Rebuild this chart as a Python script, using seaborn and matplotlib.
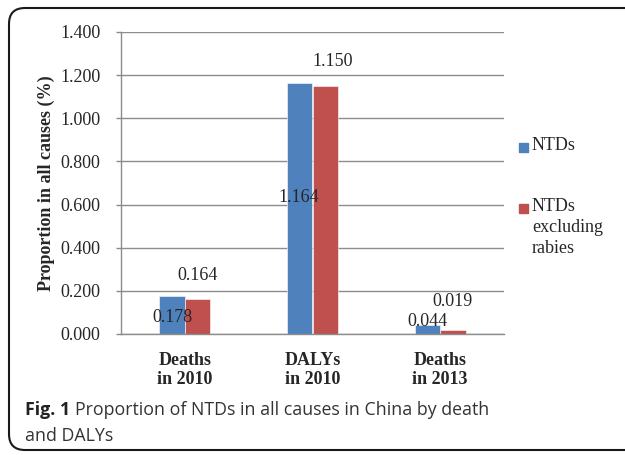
import matplotlib
matplotlib.use("Agg")
import matplotlib.pyplot as plt
from matplotlib.patches import FancyBboxPatch
from matplotlib.transforms import IdentityTransform
import seaborn as sns
import pandas as pd

categories = ["Deaths\nin 2010", "DALYs\nin 2010", "Deaths\nin 2013"]
ntds = [0.178, 1.164, 0.044]
ntds_excl_rabies = [0.164, 1.150, 0.019]
series_names = ["NTDs", "NTDs\nexcluding\nrabies"]
yticks = [0.0, 0.2, 0.4, 0.6, 0.8, 1.0, 1.2, 1.4]

df = pd.DataFrame({
    "category": categories * 2,
    "value": ntds + ntds_excl_rabies,
    "series": [series_names[0]] * 3 + [series_names[1]] * 3,
})

sns.set_theme(style="white")
plt.rcParams["font.family"] = ["Liberation Serif", "DejaVu Serif"]

W, H = 625, 455
fig = plt.figure(figsize=(W / 100, H / 100), dpi=100)
ax = fig.add_axes([121 / W, 1 - 334 / H, 383 / W, 302 / H])

colors = ["#4F81BD", "#C0504D"]
sns.barplot(data=df, x="category", y="value", hue="series", palette=colors,
            saturation=1, width=0.4, gap=0, ax=ax, legend=False,
            edgecolor="white", linewidth=0.4)

fs = 13
ax.set_ylim(0, 1.4)
ax.set_xlim(-0.5, 2.5)
ax.set_yticks(yticks)
ax.set_yticklabels([f"{t:.3f}" for t in yticks], fontsize=fs)
ax.set_xticks(range(len(categories)))
ax.set_xticklabels(categories, fontsize=fs, fontweight="bold", linespacing=1.15)
ax.set_xlabel("")
ax.set_ylabel("Proportion in all causes (%)", fontsize=fs, fontweight="bold", labelpad=4)

grid_c = "#8c8c8c"
ax.yaxis.grid(True, color=grid_c, linewidth=1)
ax.set_axisbelow(True)
for side in ["top", "right"]:
    ax.spines[side].set_visible(False)
for side in ["left", "bottom"]:
    ax.spines[side].set_color(grid_c)
    ax.spines[side].set_linewidth(1)
ax.tick_params(axis="y", which="major", left=True, length=3.6, width=1, color=grid_c, pad=11)
ax.tick_params(axis="x", bottom=False, pad=7)

# value labels, offsets in pixels from each bar top
offsets_blue = [(0, -22), (-1, -115), (0, 3.5)]
offsets_red = [(0, 23), (7, 24), (0, 28)]
for i in range(len(categories)):
    ax.annotate(f"{ntds[i]:.3f}", xy=(i - 0.1, ntds[i]), xytext=offsets_blue[i],
                textcoords="offset pixels", ha="center", va="center", fontsize=fs)
    ax.annotate(f"{ntds_excl_rabies[i]:.3f}", xy=(i + 0.1, ntds_excl_rabies[i]),
                xytext=offsets_red[i], textcoords="offset pixels",
                ha="center", va="center", fontsize=fs)

# legend
legend_y = [147, 208]
for name, c, y in zip(series_names, colors, legend_y):
    fig.patches.append(plt.Rectangle((519 / W, 1 - (y + 5) / H), 9 / W, 9 / H,
                                     transform=fig.transFigure, color=c, figure=fig))
    fig.text(532 / W, 1 - (y - 10) / H, name, fontsize=fs, va="top", ha="left",
             linespacing=1.32)

# rounded caption frame, drawn in pixel coordinates
frame = FancyBboxPatch((9, H - 450), 650, 442,
                       boxstyle="round,pad=0,rounding_size=16",
                       transform=IdentityTransform(), facecolor="none",
                       edgecolor="#1a1a1a", linewidth=1.5, figure=fig)
fig.patches.append(frame)

cap_font = ["Open Sans", "DejaVu Sans"]
cfs = 12.8
t1 = fig.text(25 / W, 1 - 410 / H, "Fig. 1", fontsize=cfs, fontweight="bold",
              family=cap_font, va="center", ha="left", color="#222222")
fig.canvas.draw()
bb = t1.get_window_extent()
fig.text((bb.x1 + 5) / W, 1 - 410 / H,
         "Proportion of NTDs in all causes in China by death",
         fontsize=cfs, family=cap_font, va="center", ha="left", color="#333333")
fig.text(25 / W, 1 - 436 / H, "and DALYs", fontsize=cfs, family=cap_font,
         va="center", ha="left", color="#333333")

fig.savefig("out.png", dpi=100)
